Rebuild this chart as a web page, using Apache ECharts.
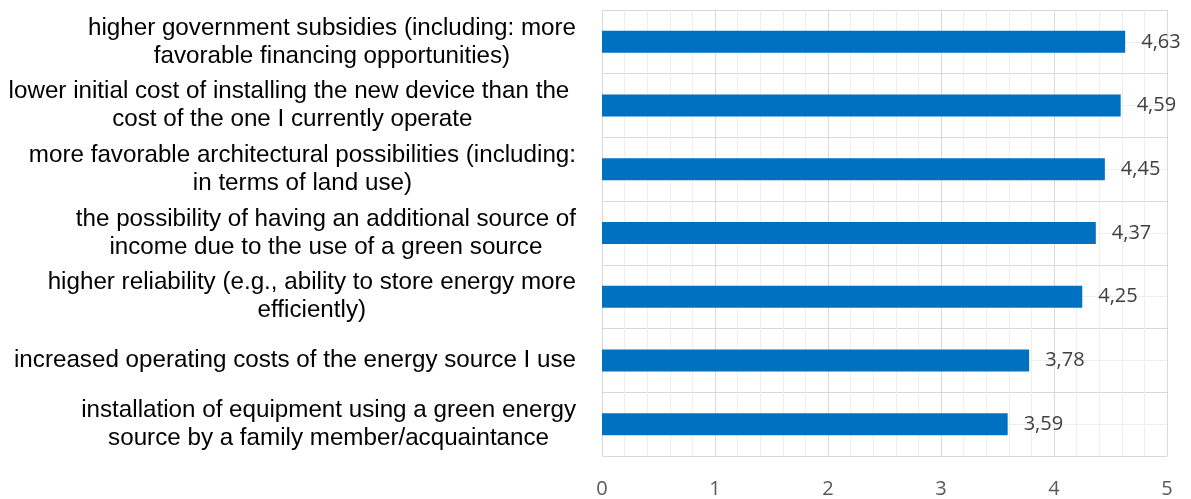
<!DOCTYPE html>
<html>
<head>
<meta charset="utf-8">
<script src="https://cdn.jsdelivr.net/npm/echarts@6/dist/echarts.min.js"></script>
<style>
html,body{margin:0;padding:0;background:#fff;}
#chart{width:1191px;height:499px;}
</style>
</head>
<body>
<div id="chart"></div>
<script>
// top to bottom
const categories = [
  "higher government subsidies (including: more\nfavorable financing opportunities)",
  "lower initial cost of installing the new device than the \ncost of the one I currently operate",
  "more favorable architectural possibilities (including:\nin terms of land use)",
  "the possibility of having an additional source of\nincome due to the use of a green source",
  "higher reliability (e.g., ability to store energy more\nefficiently)",
  "increased operating costs of the energy source I use",
  "installation of equipment using a green energy\nsource by a family member/acquaintance"
];
const values = [4.63, 4.59, 4.45, 4.37, 4.25, 3.78, 3.59];
const xTicks = [0, 1, 2, 3, 4, 5];

const chart = echarts.init(document.getElementById('chart'));
chart.setOption({
  animation: false,
  backgroundColor: '#ffffff',
  grid: { left: 602, right: 24, top: 10, bottom: 41, containLabel: false },
  xAxis: {
    type: 'value',
    min: xTicks[0], max: xTicks[xTicks.length - 1], interval: 1,
    axisLine: { show: false },
    axisTick: { show: false },
    axisLabel: { color: '#595959', fontSize: 20, fontFamily: 'Open Sans', margin: 23 },
    splitLine: { show: true, lineStyle: { color: '#d9d9d9', width: 1 } },
    minorTick: { show: false, splitNumber: 5 },
    minorSplitLine: { show: true, lineStyle: { color: '#eeeeee', width: 1 } }
  },
  yAxis: [
    {
      type: 'category',
      inverse: true,
      data: categories,
      axisLine: { show: false },
      axisTick: { show: false },
      splitLine: { show: false },
      axisLabel: {
        margin: 26,
        formatter: function (v) {
          return v.split('\n').map(function (l) { return '{c|' + l + '}'; }).join('\n');
        },
        rich: {
          c: { align: 'center', fontSize: 24.2, lineHeight: 28, fontFamily: 'Liberation Sans', color: '#000000' }
        }
      }
    },
    {
      type: 'value',
      min: 0, max: categories.length, interval: 1,
      position: 'right',
      axisLine: { show: false },
      axisTick: { show: false },
      axisLabel: { show: false },
      splitLine: { show: true, lineStyle: { color: '#d9d9d9', width: 1 } },
      minorTick: { show: false, splitNumber: 2 },
      minorSplitLine: { show: true, lineStyle: { color: '#eeeeee', width: 1 } }
    }
  ],
  series: [{
    type: 'bar',
    yAxisIndex: 0,
    data: values,
    barWidth: 22,
    itemStyle: { color: '#0070c0' },
    label: {
      show: true,
      position: 'right',
      distance: 16,
      color: '#404040',
      fontSize: 20,
      fontFamily: 'Open Sans',
      formatter: function (p) { return p.value.toFixed(2).replace('.', ','); }
    }
  }]
});
</script>
</body>
</html>
